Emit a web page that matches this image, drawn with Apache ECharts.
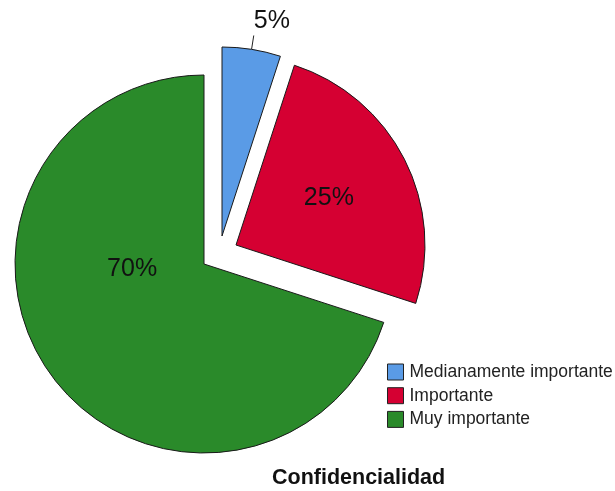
<!DOCTYPE html>
<html>
<head>
<meta charset="utf-8">
<script src="https://cdn.jsdelivr.net/npm/echarts@6/dist/echarts.min.js"></script>
<style>
html,body{margin:0;padding:0;background:#fff;}
#chart{width:615px;height:491px;}
</style>
</head>
<body>
<div id="chart"></div>
<script>
// ---- data ----
const categories = ['Medianamente importante', 'Importante', 'Muy importante'];
const values = [5, 25, 70];
const valueLabels = ['5%', '25%', '70%'];
const chartTitle = 'Confidencialidad';

// ---- styles / layout ----
const colors = ['#5A9BE6', '#D50032', '#2A8A2A'];
const centers = [[222, 236], [236, 245], [204, 264]];
const radius = 189;
const labelShift = [[0, -14], [6, -2.5], [7, -52]];
const FONT = 'Liberation Sans, Arial, sans-serif';

const chart = echarts.init(document.getElementById('chart'), null, {renderer: 'canvas'});

const series = categories.map((cat, i) => ({
  type: 'pie',
  radius: radius,
  center: centers[i],
  startAngle: 90,
  clockwise: true,
  avoidLabelOverlap: false,
  animation: false,
  emphasis: {disabled: true},
  silent: true,
  labelLayout: function (p) {
    if (p.dataIndex !== i) return {};
    return {dx: labelShift[i][0], dy: labelShift[i][1]};
  },
  data: values.map((v, j) => {
    if (j === i) {
      const isOutside = (i === 0);
      return {
        name: cat,
        value: v,
        itemStyle: {color: colors[i], borderColor: '#1a1a1a', borderWidth: 1},
        label: {
          show: true,
          position: isOutside ? 'outside' : 'inside',
          formatter: valueLabels[i],
          fontFamily: FONT,
          fontSize: 25,
          color: '#111',
          distanceToLabelLine: 0
        },
        labelLine: {
          show: isOutside,
          length: 14,
          length2: 0,
          smooth: false,
          lineStyle: {color: '#222', width: 1}
        }
      };
    }
    return {
      name: '_hidden' + j,
      value: v,
      itemStyle: {color: 'rgba(0,0,0,0)', borderWidth: 0},
      label: {show: false},
      labelLine: {show: false}
    };
  })
}));

chart.setOption({
  backgroundColor: '#ffffff',
  animation: false,
  title: {
    text: chartTitle,
    left: 272,
    top: 467,
    padding: 0,
    textStyle: {fontFamily: FONT, fontSize: 21.5, fontWeight: 'bold', color: '#111'}
  },
  legend: {
    orient: 'vertical',
    left: 387,
    top: 363,
    padding: 0,
    icon: 'rect',
    itemWidth: 16,
    itemHeight: 16,
    itemGap: 5.7,
    selectedMode: false,
    textStyle: {fontFamily: FONT, fontSize: 17.5, color: '#222', padding: [0, 0, 0, 1]},
    data: categories.map((c, i) => ({
      name: c,
      itemStyle: {color: colors[i], borderColor: '#222', borderWidth: 1}
    }))
  },
  series: series
});
</script>
</body>
</html>
